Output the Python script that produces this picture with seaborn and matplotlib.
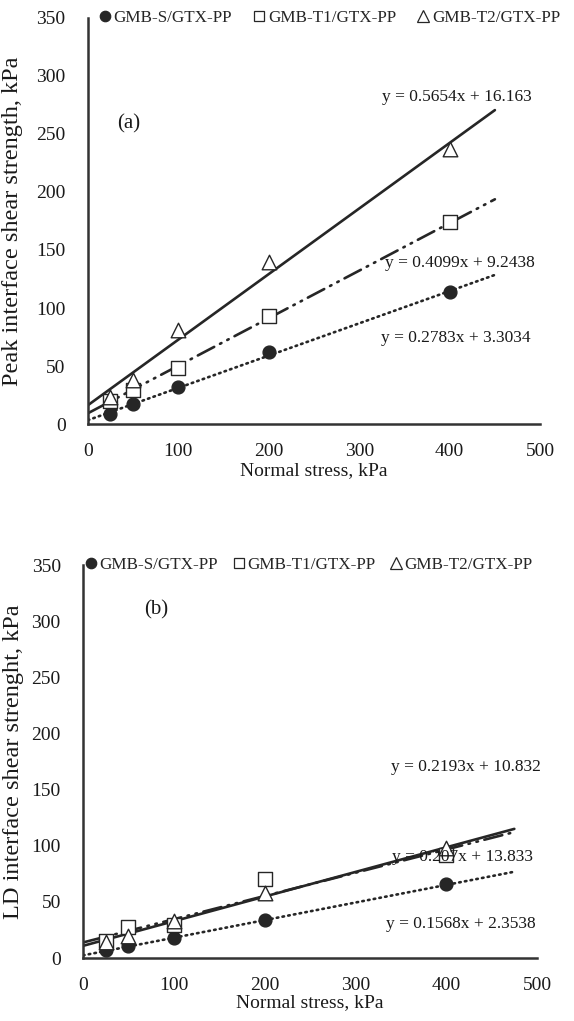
import numpy as np
import pandas as pd
import matplotlib
matplotlib.use("Agg")
import matplotlib.pyplot as plt
import seaborn as sns

# ---------------- data ----------------
normal_stress = [25, 50, 100, 200, 400]
series_names = ["GMB-S/GTX-PP", "GMB-T1/GTX-PP", "GMB-T2/GTX-PP"]

peak_S = [9, 17, 32, 62, 114]
peak_T1 = [20, 29, 48, 93, 174]
peak_T2 = [23, 38, 81, 140, 237]
peak_slopes = [0.2783, 0.4099, 0.5654]
peak_intercepts = [3.3034, 9.2438, 16.163]
peak_eq_labels = ["y = 0.2783x + 3.3034", "y = 0.4099x + 9.2438", "y = 0.5654x + 16.163"]

ld_S = [7, 11, 18, 34, 66]
ld_T1 = [15, 28, 29, 70, 92]
ld_T2 = [14, 20, 33, 58, 98]
ld_slopes = [0.1568, 0.207, 0.2193]
ld_intercepts = [2.3538, 13.833, 10.832]
ld_eq_labels = ["y = 0.1568x + 2.3538", "y = 0.207x + 13.833", "y = 0.2193x + 10.832"]

x_ticks = [0, 100, 200, 300, 400, 500]
y_ticks = [0, 50, 100, 150, 200, 250, 300, 350]

# ---------------- style ----------------
sns.set_style("white")
plt.rcParams['font.family'] = ['Liberation Serif', 'DejaVu Serif']

fig = plt.figure(figsize=(5.74, 10.21), dpi=100)
ax1 = fig.add_axes([0.153, 0.5847, 0.788, 0.3977])
ax2 = fig.add_axes([0.1446, 0.0617, 0.791, 0.3849])

dark = "#262626"
markers = ["o", "s", "^"]
mfc = [dark, "white", "white"]
msize = [85, 90, 110]
line_styles = [(0, (0.6, 1.6)), (0, (7, 2.5, 0.6, 2.5, 0.6, 2.5)), "-"]


def draw_panel(ax, ys, slopes, intercepts, eq_labels, xmax, eq_pos, panel_label, panel_pos,
               ylabel, ylabel_x, xlabel_pad, legend_x, colspace):
    xs_line = np.linspace(0, xmax, 50)
    for i in range(3):
        df_line = pd.DataFrame({"x": xs_line, "y": slopes[i] * xs_line + intercepts[i]})
        sns.lineplot(data=df_line, x="x", y="y", ax=ax, color=dark, linewidth=1.9,
                     linestyle=line_styles[i], legend=False, zorder=2,
                     dash_capstyle="round")
    handles = []
    for i in range(3):
        df = pd.DataFrame({"x": normal_stress, "y": ys[i]})
        sns.scatterplot(data=df, x="x", y="y", ax=ax, marker=markers[i], s=msize[i],
                        facecolor=mfc[i], edgecolor=dark, linewidth=1.0, zorder=3,
                        legend=False)
        handles.append(plt.Line2D([], [], marker=markers[i], linestyle="none",
                                  markerfacecolor=mfc[i], markeredgecolor=dark,
                                  markeredgewidth=0.9, markersize=[7.5, 7.5, 8][i]))
    for i in range(3):
        ax.text(eq_pos[i][0], eq_pos[i][1], eq_labels[i], ha="center", va="center",
                fontsize=12.5, color="#1a1a1a")
    ax.text(panel_pos[0], panel_pos[1], panel_label, ha="center", va="center",
            fontsize=15, color="#1a1a1a")

    ax.set_xlim(0, 500)
    ax.set_ylim(0, 350)
    ax.set_xticks(x_ticks)
    ax.set_yticks(y_ticks)
    ax.tick_params(axis="both", length=0, labelsize=14, colors="#1a1a1a")
    ax.tick_params(axis="x", pad=14)
    ax.tick_params(axis="y", pad=16)
    ax.set_xlabel("Normal stress, kPa", fontsize=14, color="#1a1a1a", labelpad=xlabel_pad)
    ax.set_ylabel(ylabel, fontsize=17.5, color="#1a1a1a")
    ax.yaxis.set_label_coords(ylabel_x, 0.5)
    for s in ["top", "right"]:
        ax.spines[s].set_visible(False)
    for s in ["left", "bottom"]:
        ax.spines[s].set_color("#333333")
        ax.spines[s].set_linewidth(1.8)
    ax.legend(handles, series_names, loc="center left", bbox_to_anchor=(legend_x, 1.0),
              ncol=3, frameon=False, fontsize=12.3, handletextpad=-0.1,
              columnspacing=colspace, handlelength=1.2, borderaxespad=0)


draw_panel(ax1, [peak_S, peak_T1, peak_T2], peak_slopes, peak_intercepts, peak_eq_labels,
           450, [(407, 74), (411, 139), (408, 282)], "(a)", (45, 259),
           "Peak interface shear strength, kPa", -0.143, 1, 0.0, 1.0)
draw_panel(ax2, [ld_S, ld_T1, ld_T2], ld_slopes, ld_intercepts, ld_eq_labels,
           475, [(416, 30), (418, 90), (422, 170)], "(b)", (81, 310),
           "LD interface shear strenght, kPa", -0.13, 0, -0.02, 0.6)

fig.savefig("out.png", dpi=100, facecolor="white")
